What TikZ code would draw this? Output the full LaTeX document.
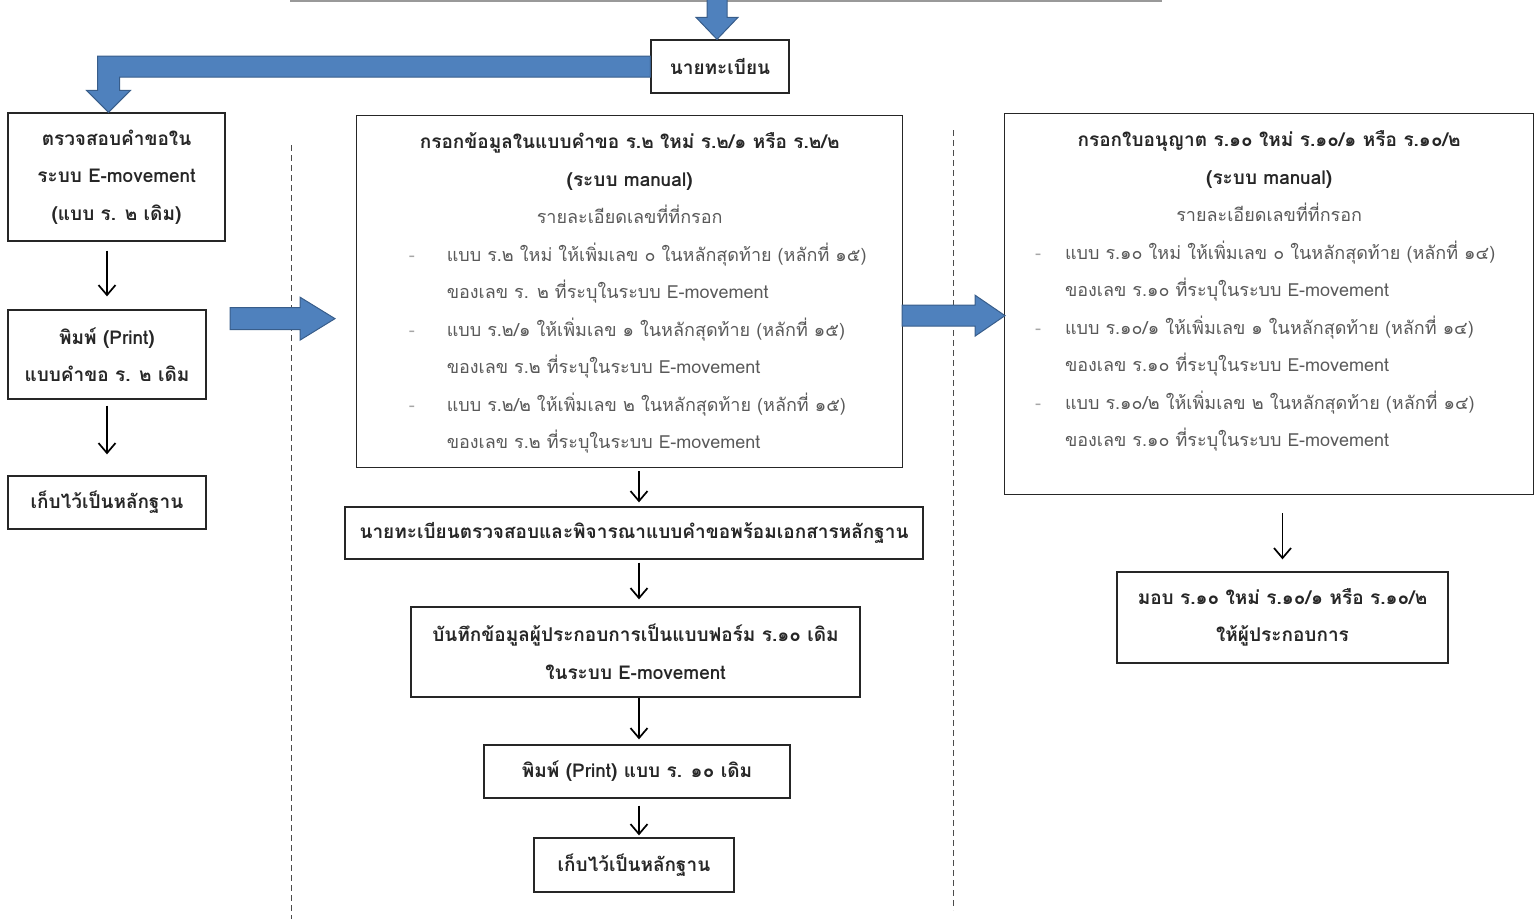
\documentclass[tikz,border=0pt]{standalone}
\usepackage{fontspec}
\newfontfamily\thaifont[Script=Thai]{Loma}
\usetikzlibrary{arrows.meta}

\definecolor{arrowblue}{HTML}{4F81BD}
\definecolor{arrowedge}{HTML}{385D8A}
\definecolor{titlecol}{HTML}{262626}
\definecolor{detailcol}{HTML}{595959}
\definecolor{dashcol}{HTML}{A6A6A6}

\begin{document}
\begin{tikzpicture}[x=1pt, y=-1pt,
  stepbox/.style={draw=black!85, line width=1.3pt, inner sep=0pt, align=center, text=titlecol,
    font=\thaifont\fontsize{19}{37.5}\selectfont\bfseries},
  formbox/.style={draw=black!85, line width=1.3pt, inner sep=0pt, anchor=north west, text=detailcol,
    font=\thaifont\fontsize{18}{37.5}\selectfont},
  flow/.style={line width=1.7pt, -{Straight Barb[length=10pt,width=17pt]}},
  blockarrow/.style={fill=arrowblue, draw=arrowedge, line width=1pt},
  divider/.style={draw=black!70, line width=1pt, dash pattern=on 6pt off 4pt}]

\useasboundingbox (0,0) rectangle (1534,919);

% lower edge of the box above
\draw[black!40, line width=1.2pt] (290,1) -- (1162,1);

% column dividers
\draw[divider] (291,145) -- (291,919);
\draw[divider] (953,130) -- (953,910);

% registrar
\node[stepbox, minimum width=138pt, minimum height=53pt] (reg) at (720,66.5) {นายทะเบียน};

% left column: old form
\node[stepbox, minimum width=217pt, minimum height=128pt] (chkold) at (116.5,177) {ตรวจสอบคำขอใน\\ระบบ E-movement\\(แบบ ร. ๒ เดิม)};
\node[stepbox, minimum width=198pt, minimum height=89pt] (printreq) at (107,354.5) {พิมพ์ (Print)\\แบบคำขอ ร. ๒ เดิม};
\node[stepbox, minimum width=198pt, minimum height=53pt] (keepleft) at (107,502.5) {เก็บไว้เป็นหลักฐาน};

% middle column: request form
\node[formbox, minimum width=546pt, text height=33pt, text depth=319pt] (regform) at (356,115) {%
  \begin{tabular}[t]{@{\hspace{16pt}}l@{\hspace{32pt}}l@{}}
  \multicolumn{2}{c}{\textcolor{titlecol}{\fontsize{19}{37.5}\selectfont\bfseries กรอกข้อมูลในแบบคำขอ ร.๒ ใหม่ ร.๒/๑ หรือ ร.๒/๒}}\\
  \multicolumn{2}{c}{\textcolor{titlecol}{\fontsize{19}{37.5}\selectfont\bfseries (ระบบ manual)}}\\
  \multicolumn{2}{c}{รายละเอียดเลขที่ที่กรอก}\\
  \textcolor{dashcol}{-} & แบบ ร.๒ ใหม่ ให้เพิ่มเลข ๐ ในหลักสุดท้าย (หลักที่ ๑๕)\\
  & ของเลข ร. ๒ ที่ระบุในระบบ E-movement\\
  \textcolor{dashcol}{-} & แบบ ร.๒/๑ ให้เพิ่มเลข ๑ ในหลักสุดท้าย (หลักที่ ๑๕)\\
  & ของเลข ร.๒ ที่ระบุในระบบ E-movement\\
  \textcolor{dashcol}{-} & แบบ ร.๒/๒ ให้เพิ่มเลข ๒ ในหลักสุดท้าย (หลักที่ ๑๕)\\
  & ของเลข ร.๒ ที่ระบุในระบบ E-movement
  \end{tabular}};
\node[stepbox, minimum width=578pt, minimum height=52pt] (verify) at (634,533) {นายทะเบียนตรวจสอบและพิจารณาแบบคำขอพร้อมเอกสารหลักฐาน};
\node[stepbox, minimum width=449pt, minimum height=90pt] (record) at (635.5,652) {บันทึกข้อมูลผู้ประกอบการเป็นแบบฟอร์ม ร.๑๐ เดิม\\ในระบบ E-movement};
\node[stepbox, minimum width=306pt, minimum height=53pt] (printten) at (637,771.5) {พิมพ์ (Print) แบบ ร. ๑๐ เดิม};
\node[stepbox, minimum width=200pt, minimum height=54pt] (keepmid) at (634,865) {เก็บไว้เป็นหลักฐาน};

% right column: licence
\node[formbox, minimum width=529pt, text height=33pt, text depth=348pt] (licform) at (1004,113) {%
  \begin{tabular}[t]{@{}l@{\hspace{24pt}}l@{\hspace{8pt}}}
  \multicolumn{2}{c}{\textcolor{titlecol}{\fontsize{19}{37.5}\selectfont\bfseries กรอกใบอนุญาต ร.๑๐ ใหม่ ร.๑๐/๑ หรือ ร.๑๐/๒}}\\
  \multicolumn{2}{c}{\textcolor{titlecol}{\fontsize{19}{37.5}\selectfont\bfseries (ระบบ manual)}}\\
  \multicolumn{2}{c}{รายละเอียดเลขที่ที่กรอก}\\
  \textcolor{dashcol}{-} & แบบ ร.๑๐ ใหม่ ให้เพิ่มเลข ๐ ในหลักสุดท้าย (หลักที่ ๑๔)\\
  & ของเลข ร.๑๐ ที่ระบุในระบบ E-movement\\
  \textcolor{dashcol}{-} & แบบ ร.๑๐/๑ ให้เพิ่มเลข ๑ ในหลักสุดท้าย (หลักที่ ๑๔)\\
  & ของเลข ร.๑๐ ที่ระบุในระบบ E-movement\\
  \textcolor{dashcol}{-} & แบบ ร.๑๐/๒ ให้เพิ่มเลข ๒ ในหลักสุดท้าย (หลักที่ ๑๔)\\
  & ของเลข ร.๑๐ ที่ระบุในระบบ E-movement
  \end{tabular}};
\node[stepbox, minimum width=331pt, minimum height=91pt] (handover) at (1282.5,617.5) {มอบ ร.๑๐ ใหม่ ร.๑๐/๑ หรือ ร.๑๐/๒\\ให้ผู้ประกอบการ};

% thin arrows
\coordinate (midaxis) at (639,0);
\draw[flow, shorten <=9pt, shorten >=13pt] (chkold.south -| printreq.north) -- (printreq.north);
\draw[flow, shorten <=6pt, shorten >=21pt] (printreq) -- (keepleft);
\draw[flow, shorten <=3pt, shorten >=4pt] (regform.south -| midaxis) -- (verify.north -| midaxis);
\draw[flow, shorten <=3pt, shorten >=7pt] (verify.south -| midaxis) -- (record.north -| midaxis);
\draw[flow, shorten >=5pt] (record.south -| midaxis) -- (printten.north -| midaxis);
\draw[flow, shorten <=7pt, shorten >=2pt] (printten.south -| midaxis) -- (keepmid.north -| midaxis);
\draw[flow, shorten <=18pt, shorten >=12pt] (licform.south -| handover.north) -- (handover.north);

% block arrows
\draw[blockarrow] ([xshift=-3pt]reg.north) -- ++(21,-22) -- ++(-11,0) -- ++(0,-18) -- ++(-20,0) -- ++(0,18) -- ++(-11,0) -- cycle;
\coordinate (ltip) at ([xshift=-8pt]chkold.north);
\draw[blockarrow] (ltip) -- ++(22,-22) -- ++(-11,0) |- ([yshift=-10.5pt]reg.west)
  -- ([yshift=10.5pt]reg.west) -| ([xshift=-11pt,yshift=22pt]ltip) -- ++(-11,0) -- cycle;
\coordinate (tipA) at ([xshift=-21pt,yshift=-27pt]regform.west);
\draw[blockarrow] (tipA) -- ++(-35,-21.5) -- ++(0,10.5) -- ++(-70,0) -- ++(0,22) -- ++(70,0) -- ++(0,10.5) -- cycle;
\coordinate (tipB) at ([xshift=1pt,yshift=-11.5pt]licform.west);
\draw[blockarrow] (tipB) -- ++(-30,-20.5) -- ++(0,10) -- ++(-73,0) -- ++(0,21) -- ++(73,0) -- ++(0,10) -- cycle;

\end{tikzpicture}
\end{document}
